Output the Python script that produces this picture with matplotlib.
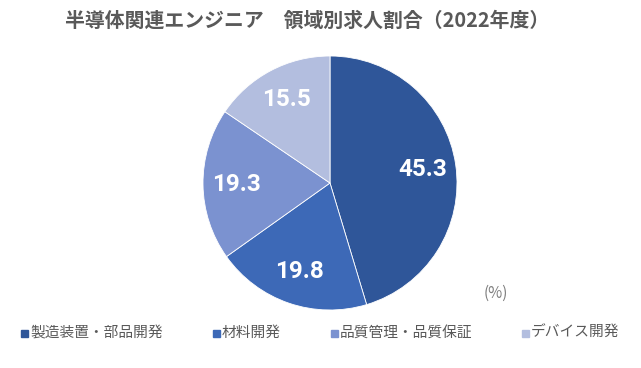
import matplotlib
matplotlib.use("Agg")
import matplotlib.pyplot as plt

# データ
categories = ["製造装置・部品開発", "材料開発", "品質管理・品質保証", "デバイス開発"]
shares = [45.3, 19.8, 19.3, 15.5]
colors = ["#2F5699", "#3D69B7", "#7B92D0", "#B3BEDF"]

title = "半導体関連エンジニア　領域別求人割合（2022年度）"
unit = "(%)"

jp = ["Noto Sans CJK JP", "DejaVu Sans"]
gray = "#595959"

fig = plt.figure(figsize=(6.41, 3.68), dpi=100)
ax = fig.add_axes([203 / 641, 58 / 368, 254 / 641, 254 / 368])

wedges, texts, autotexts = ax.pie(
    shares, colors=colors, startangle=90, counterclock=False,
    autopct=lambda p: "", pctdistance=0.74, radius=1.0,
    wedgeprops=dict(linewidth=0.6, edgecolor="white"))

# 値ラベル
for w, t, v in zip(wedges, autotexts, shares):
    x, y = t.get_position()
    ax.text(x, y, f"{v:.1f}", ha="center", va="center", color="white",
            fontsize=17.5, fontweight="bold",
            family=["Liberation Sans Narrow", "Roboto", "DejaVu Sans"])

ax.set_xlim(-1, 1)
ax.set_ylim(-1, 1)
ax.set_aspect("equal")
ax.axis("off")

fig.text(307 / 641, 1 - 20 / 368, title, ha="center", va="center",
         fontsize=14.3, fontweight="bold", color=gray, family=jp)

fig.text(496 / 641, 1 - 293 / 368, unit, ha="center", va="center",
         fontsize=11, color="#7F7F7F", family=jp)

# 凡例
legend_x = [21, 213, 331, 522]
for x, c, lab in zip(legend_x, colors, categories):
    fig.patches.append(plt.Rectangle((x / 641, 1 - 337 / 368), 7 / 641, 7 / 368,
                                     transform=fig.transFigure, color=c))
    fig.text((x + 9) / 641, 1 - 333 / 368, lab, ha="left", va="center",
             fontsize=10.6, color=gray, family=jp)

fig.savefig("out.png", dpi=100)
